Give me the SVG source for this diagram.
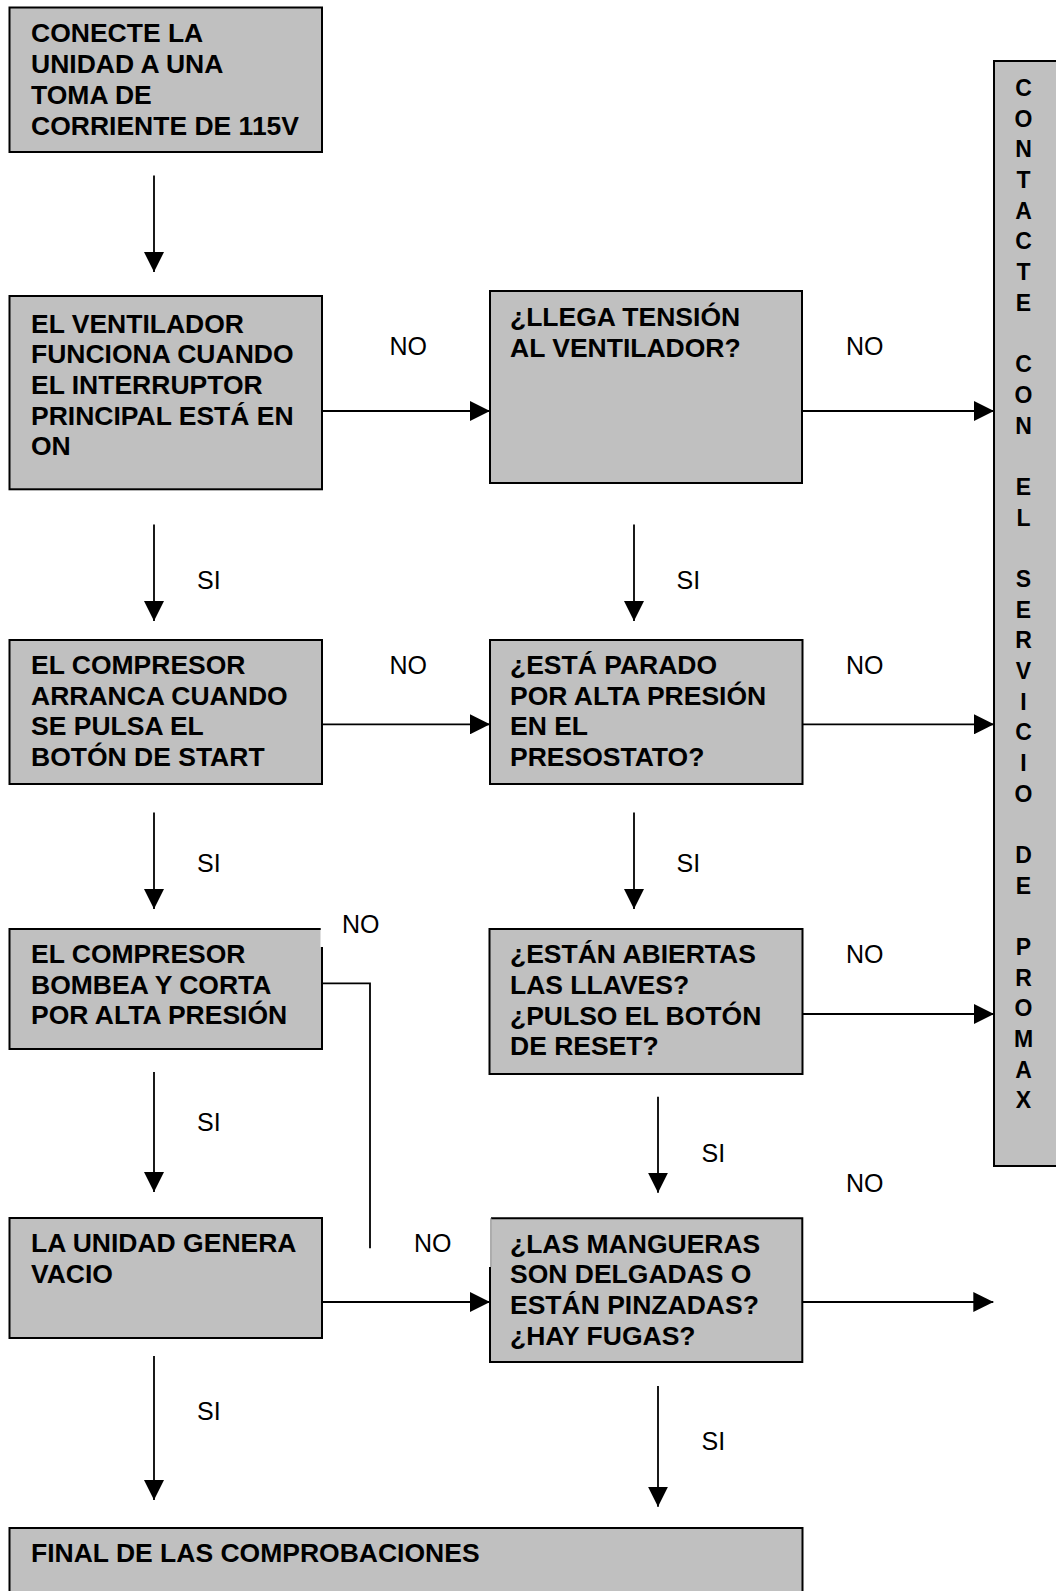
<svg xmlns="http://www.w3.org/2000/svg" width="1056" height="1591" viewBox="0 0 1056 1591">
<style>
.box{fill:#C0C0C0;stroke:#000;stroke-width:2}
.edge{fill:none;stroke:#000;stroke-width:2}
.t{font-family:"Liberation Sans",Arial,sans-serif;font-weight:bold;font-size:26.5px;fill:#000}
.v{font-family:"Liberation Sans",Arial,sans-serif;font-weight:bold;font-size:23px;fill:#000}
.lbl{font-family:"Liberation Sans",Arial,sans-serif;font-size:25px;fill:#000}
.c{fill:none;stroke:#000;stroke-width:1.8}
</style>
<defs>
<marker id="ah" markerUnits="userSpaceOnUse" markerWidth="20" markerHeight="20" refX="20" refY="10" orient="auto" viewBox="0 0 20 20">
<path d="M0,0 L20,10 L0,20 Z" fill="#000"/>
</marker>
</defs>
<rect width="1056" height="1591" fill="#fff"/>

<g id="connectors">
<line class="c" x1="154" y1="175.5" x2="154" y2="272" marker-end="url(#ah)"/>
<line class="c" x1="154" y1="524.5" x2="154" y2="621" marker-end="url(#ah)"/>
<line class="c" x1="154" y1="812.5" x2="154" y2="909" marker-end="url(#ah)"/>
<line class="c" x1="154" y1="1072" x2="154" y2="1192" marker-end="url(#ah)"/>
<line class="c" x1="154" y1="1356" x2="154" y2="1500" marker-end="url(#ah)"/>
<line class="c" x1="634" y1="524.5" x2="634" y2="621" marker-end="url(#ah)"/>
<line class="c" x1="634" y1="812.5" x2="634" y2="909" marker-end="url(#ah)"/>
<line class="c" x1="658" y1="1096.7" x2="658" y2="1192.7" marker-end="url(#ah)"/>
<line class="c" x1="658" y1="1386" x2="658" y2="1506.7" marker-end="url(#ah)"/>
<line class="c" x1="322" y1="411" x2="490" y2="411" marker-end="url(#ah)"/>
<line class="c" x1="802" y1="411" x2="994" y2="411" marker-end="url(#ah)"/>
<line class="c" x1="322" y1="724.3" x2="490" y2="724.3" marker-end="url(#ah)"/>
<line class="c" x1="802" y1="724.3" x2="994" y2="724.3" marker-end="url(#ah)"/>
<line class="c" x1="802" y1="1014" x2="994" y2="1014" marker-end="url(#ah)"/>
<line class="c" x1="322" y1="1302" x2="490" y2="1302" marker-end="url(#ah)"/>
<line class="c" x1="802" y1="1302" x2="993.3" y2="1302" marker-end="url(#ah)"/>
<polyline class="c" points="322,983.3 370,983.3 370,1248.3"/>
<text class="lbl" x="389.5" y="355">NO</text>
<text class="lbl" x="846" y="355">NO</text>
<text class="lbl" x="197" y="589">SI</text>
<text class="lbl" x="676.5" y="589">SI</text>
<text class="lbl" x="389.5" y="673.5">NO</text>
<text class="lbl" x="846" y="673.5">NO</text>
<text class="lbl" x="197" y="872">SI</text>
<text class="lbl" x="676.5" y="872">SI</text>
<text class="lbl" x="342" y="933">NO</text>
<text class="lbl" x="846" y="963">NO</text>
<text class="lbl" x="197" y="1131">SI</text>
<text class="lbl" x="701.5" y="1162">SI</text>
<text class="lbl" x="846" y="1191.5">NO</text>
<text class="lbl" x="414" y="1251.5">NO</text>
<text class="lbl" x="197" y="1420">SI</text>
<text class="lbl" x="701.5" y="1449.5">SI</text>
</g>

<g id="n1">
<rect class="box" x="9.5" y="7.5" width="312.5" height="144.5"/>
<text class="t" x="31"><tspan x="31" y="42">CONECTE LA</tspan><tspan x="31" y="73">UNIDAD A UNA</tspan><tspan x="31" y="104">TOMA DE</tspan><tspan x="31" y="135">CORRIENTE DE 115V</tspan></text>
</g>

<g id="n2">
<rect class="box" x="9.5" y="296" width="312.5" height="193.3"/>
<text class="t"><tspan x="31" y="332.5">EL VENTILADOR</tspan><tspan x="31" y="363.2">FUNCIONA CUANDO</tspan><tspan x="31" y="393.9">EL INTERRUPTOR</tspan><tspan x="31" y="424.6">PRINCIPAL ESTÁ EN</tspan><tspan x="31" y="455.3">ON</tspan></text>
</g>

<g id="n3">
<rect class="box" x="490" y="291" width="312" height="192"/>
<text class="t"><tspan x="510" y="325.8">¿LLEGA TENSIÓN</tspan><tspan x="510" y="356.5">AL VENTILADOR?</tspan></text>
</g>

<g id="n4">
<rect class="box" x="9.5" y="640" width="312.5" height="144"/>
<text class="t"><tspan x="31" y="674">EL COMPRESOR</tspan><tspan x="31" y="704.7">ARRANCA CUANDO</tspan><tspan x="31" y="735.4">SE PULSA EL</tspan><tspan x="31" y="766">BOTÓN DE START</tspan></text>
</g>

<g id="n5">
<rect class="box" x="490" y="640" width="312.5" height="144"/>
<text class="t"><tspan x="510" y="674">¿ESTÁ PARADO</tspan><tspan x="510" y="704.7">POR ALTA PRESIÓN</tspan><tspan x="510" y="735.4">EN EL</tspan><tspan x="510" y="766">PRESOSTATO?</tspan></text>
</g>

<g id="n6">
<rect x="9.5" y="929" width="312.5" height="120" fill="#C0C0C0"/>
<rect x="320.5" y="928" width="3" height="19" fill="#fff"/>
<path class="edge" d="M320.7,929 H9.5 V1049 H322 V947"/>
<text class="t"><tspan x="31" y="963">EL COMPRESOR</tspan><tspan x="31" y="993.7">BOMBEA Y CORTA</tspan><tspan x="31" y="1024.4">POR ALTA PRESIÓN</tspan></text>
</g>

<g id="n7">
<rect class="box" x="489.5" y="929" width="313" height="145"/>
<text class="t"><tspan x="510" y="963.3">¿ESTÁN ABIERTAS</tspan><tspan x="510" y="994">LAS LLAVES?</tspan><tspan x="510" y="1024.7">¿PULSO EL BOTÓN</tspan><tspan x="510" y="1055.4">DE RESET?</tspan></text>
</g>

<g id="n8">
<rect class="box" x="9.5" y="1218" width="312.5" height="120"/>
<text class="t"><tspan x="31" y="1252">LA UNIDAD GENERA</tspan><tspan x="31" y="1282.7">VACIO</tspan></text>
</g>

<g id="n9">
<rect x="490" y="1218.3" width="312.3" height="143.7" fill="#C0C0C0"/>
<path class="edge" d="M491,1218.3 H802.3 V1362 H490 V1267"/>
<line x1="491" y1="1218.3" x2="491" y2="1267" stroke="#999" stroke-width="1"/>
<text class="t"><tspan x="510" y="1252.5">¿LAS MANGUERAS</tspan><tspan x="510" y="1283.2">SON DELGADAS O</tspan><tspan x="510" y="1314">ESTÁN PINZADAS?</tspan><tspan x="510" y="1344.7">¿HAY FUGAS?</tspan></text>
</g>

<g id="n10">
<rect class="box" x="9.5" y="1528" width="793" height="80"/>
<text class="t" x="31" y="1561.7">FINAL DE LAS COMPROBACIONES</text>
</g>

<g id="n11">
<rect class="box" x="994" y="61" width="80" height="1105"/>
<text class="v" text-anchor="middle"><tspan x="1023.5" y="96">C</tspan><tspan x="1023.5" y="126.7">O</tspan><tspan x="1023.5" y="157.4">N</tspan><tspan x="1023.5" y="188">T</tspan><tspan x="1023.5" y="218.7">A</tspan><tspan x="1023.5" y="249.4">C</tspan><tspan x="1023.5" y="280.1">T</tspan><tspan x="1023.5" y="310.8">E</tspan><tspan x="1023.5" y="372.1">C</tspan><tspan x="1023.5" y="402.8">O</tspan><tspan x="1023.5" y="433.5">N</tspan><tspan x="1023.5" y="494.8">E</tspan><tspan x="1023.5" y="525.5">L</tspan><tspan x="1023.5" y="586.9">S</tspan><tspan x="1023.5" y="617.6">E</tspan><tspan x="1023.5" y="648.2">R</tspan><tspan x="1023.5" y="678.9">V</tspan><tspan x="1023.5" y="709.6">I</tspan><tspan x="1023.5" y="740.3">C</tspan><tspan x="1023.5" y="771">I</tspan><tspan x="1023.5" y="801.6">O</tspan><tspan x="1023.5" y="863">D</tspan><tspan x="1023.5" y="893.7">E</tspan><tspan x="1023.5" y="955">P</tspan><tspan x="1023.5" y="985.7">R</tspan><tspan x="1023.5" y="1016.4">O</tspan><tspan x="1023.5" y="1047.1">M</tspan><tspan x="1023.5" y="1077.8">A</tspan><tspan x="1023.5" y="1108.4">X</tspan></text>
</g>
</svg>
